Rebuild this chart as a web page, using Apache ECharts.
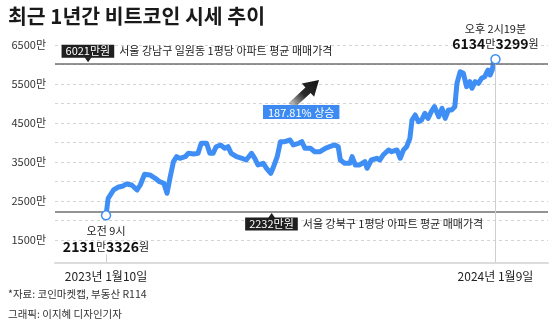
<!DOCTYPE html>
<html>
<head>
<meta charset="utf-8">
<script src="https://cdn.jsdelivr.net/npm/echarts@6/dist/echarts.min.js"></script>
<style>
  html, body { margin: 0; padding: 0; background: #fff; }
  #chart { width: 560px; height: 333px; }
</style>
</head>
<body>
<div id="chart"></div>
<script>
// Bitcoin price in KRW, unit: 만원 (10,000 won)
const dates = [
  '2023-01-10','2023-01-12','2023-01-17','2023-01-21','2023-01-26','2023-01-29','2023-02-03','2023-02-08',
  '2023-02-11','2023-02-15','2023-02-20','2023-02-25','2023-03-01','2023-03-05','2023-03-08','2023-03-09',
  '2023-03-11','2023-03-14','2023-03-17','2023-03-20','2023-03-25','2023-03-28','2023-04-02','2023-04-06',
  '2023-04-09','2023-04-14','2023-04-17','2023-04-20','2023-04-23','2023-04-27','2023-05-01','2023-05-04',
  '2023-05-07','2023-05-12','2023-05-17','2023-05-21','2023-05-26','2023-05-29','2023-06-01','2023-06-06',
  '2023-06-09','2023-06-13','2023-06-15','2023-06-19','2023-06-22','2023-06-26','2023-07-01','2023-07-04',
  '2023-07-09','2023-07-12','2023-07-15','2023-07-20','2023-07-24','2023-07-29','2023-08-03','2023-08-07',
  '2023-08-12','2023-08-15','2023-08-17','2023-08-21','2023-08-26','2023-08-28','2023-08-31','2023-09-04',
  '2023-09-09','2023-09-11','2023-09-15','2023-09-20','2023-09-23','2023-09-26','2023-10-01','2023-10-04',
  '2023-10-09','2023-10-12','2023-10-15','2023-10-18','2023-10-21','2023-10-23','2023-10-26','2023-10-29',
  '2023-11-01','2023-11-04','2023-11-07','2023-11-10','2023-11-13','2023-11-17','2023-11-20','2023-11-23',
  '2023-11-26','2023-11-29','2023-12-02','2023-12-04','2023-12-07','2023-12-10','2023-12-13','2023-12-16',
  '2023-12-18','2023-12-21','2023-12-24','2023-12-27','2023-12-30','2024-01-02','2024-01-04','2024-01-06',
  '2024-01-07','2024-01-09'
];
const prices = [
  2131.3326, 2569, 2782, 2851, 2885, 2936, 2910, 2782,
  2910, 3185, 3167, 3082, 2995, 2954, 2697, 2705,
  3123, 3508, 3636, 3595, 3636, 3723, 3705, 3723,
  3979, 3979, 3723, 3723, 3892, 3936, 3851, 3892,
  3723, 3636, 3595, 3551, 3723, 3595, 3423, 3467,
  3338, 3210, 3338, 3636, 4020, 4020, 4064, 3936,
  3979, 4020, 3851, 3851, 3764, 3764, 3851, 3892,
  3936, 3892, 3551, 3467, 3467, 3636, 3423, 3423,
  3508, 3338, 3551, 3595, 3551, 3679, 3808, 3764,
  3808, 3595, 3808, 3892, 4108, 4577, 4705, 4533,
  4577, 4749, 4620, 4790, 4918, 4662, 4877, 4620,
  4833, 4833, 4918, 5518, 5815, 5774, 5431, 5559,
  5390, 5559, 5518, 5646, 5687, 5859, 5731, 5859,
  6050, 6134.3299
];
// Apartment price per pyeong (만원)
const refLevels = [6021, 2232];
const refNames = ['서울 강남구 일원동 1평당 아파트 평균 매매가격', '서울 강북구 1평당 아파트 평균 매매가격'];
// Y axis labels and grid values (만원)
const yTickLabels = [1500, 2500, 3500, 4500, 5500, 6500];
const yGridValues = [1500, 2000, 2500, 3000, 3500, 4000, 4500, 5000, 5500, 6000, 6500];
const startTimeText = '오전 9시';
const endTimeText = '오후 2시19분';

const FONT = '"Noto Sans CJK KR", "Noto Sans", sans-serif';
const BLUE = '#3f8ef5';
const DAY = 86400000;
const t0 = Date.parse(dates[0]);
const dayOf = d => (Date.parse(d) - t0) / DAY;
const lastDay = dayOf(dates[dates.length - 1]);
const first = prices[0];
const last = prices[prices.length - 1];

function manWon(v) {
  const man = Math.floor(v);
  const won = Math.round((v - man) * 10000);
  return [man, won];
}
function dateText(v) {
  const d = new Date(t0 + v * DAY);
  return d.getUTCFullYear() + '년 ' + (d.getUTCMonth() + 1) + '월' + d.getUTCDate() + '일';
}
const [m0, w0] = manWon(first);
const [m1, w1] = manWon(last);
const risePct = (Math.floor((last / first - 1) * 10000) / 100).toFixed(2);

const seriesData = dates.map((d, i) => [dayOf(d), prices[i]]);

const pointerStyle = { color: '#1f1f1f' };
const refLabelRich = {
  b: { fontFamily: FONT, fontSize: 11, lineHeight: 12, color: '#fff', backgroundColor: '#1f1f1f', padding: [1, 4, 1, 4] },
  t: { fontFamily: FONT, fontSize: 11, lineHeight: 12, color: '#222', padding: [1, 0, 1, 5] }
};
const valueRich = {
  tm: { fontFamily: FONT, fontSize: 11, lineHeight: 15, color: '#222' },
  b: { fontFamily: FONT, fontSize: 14, fontWeight: 'bold', lineHeight: 16, color: '#111' },
  s: { fontFamily: FONT, fontSize: 11, lineHeight: 16, color: '#222' }
};

// arrow geometry (pixels)
const tail = [291, 106], tip = [319, 80];
const len = Math.hypot(tip[0] - tail[0], tip[1] - tail[1]);
const ux = (tip[0] - tail[0]) / len, uy = (tip[1] - tail[1]) / len;
const nx = -uy, ny = ux;
const headLen = 15, headHalf = 9, shaftHalf = 3.8;
const neck = [tip[0] - ux * headLen, tip[1] - uy * headLen];
const arrowPts = [
  [tail[0] + nx * shaftHalf, tail[1] + ny * shaftHalf],
  [neck[0] + nx * shaftHalf, neck[1] + ny * shaftHalf],
  [neck[0] + nx * headHalf, neck[1] + ny * headHalf],
  tip,
  [neck[0] - nx * headHalf, neck[1] - ny * headHalf],
  [neck[0] - nx * shaftHalf, neck[1] - ny * shaftHalf],
  [tail[0] - nx * shaftHalf, tail[1] - ny * shaftHalf]
];

const chart = echarts.init(document.getElementById('chart'), null, { renderer: 'canvas' });
chart.setOption({
  animation: false,
  backgroundColor: '#fff',
  grid: { left: 55, right: 12, top: 45, bottom: 70.4 },
  xAxis: {
    type: 'value',
    min: -47.7,
    max: 413.1,
    axisLine: { show: true, lineStyle: { color: '#dcdcdc', width: 2 } },
    axisTick: { show: false },
    splitLine: { show: false },
    axisLabel: {
      customValues: [0, lastDay],
      formatter: v => dateText(v),
      color: '#222',
      fontFamily: FONT,
      fontSize: 12,
      margin: 8
    }
  },
  yAxis: {
    type: 'value',
    min: 920,
    max: 6500,
    axisLine: { show: false },
    axisTick: { show: false, customValues: yGridValues },
    axisLabel: {
      customValues: yTickLabels,
      formatter: v => v + '만',
      color: '#333',
      fontFamily: FONT,
      fontSize: 11,
      margin: 9
    },
    splitLine: { show: true, lineStyle: { color: '#d4d4d4', type: [3, 3], width: 1 } }
  },
  graphic: [
    {
      type: 'text', left: 8, top: 6,
      style: { text: '최근 1년간 비트코인 시세 추이', font: 'bold 20.5px ' + FONT, fill: '#1a1a1a' }
    },
    {
      type: 'polygon',
      shape: { points: arrowPts },
      style: {
        fill: new echarts.graphic.LinearGradient(0, 1, 1, 0, [
          { offset: 0, color: 'rgba(40,40,40,0.05)' },
          { offset: 0.5, color: '#2a2a2a' },
          { offset: 1, color: '#151515' }
        ])
      },
      z: 10
    },
    {
      type: 'text', left: 263, top: 105,
      style: {
        text: risePct + '% 상승', font: '11px ' + FONT, fill: '#fff',
        backgroundColor: '#3d8bf2', padding: [2, 5, 1, 5]
      },
      z: 11
    },
    {
      type: 'text', left: 8, top: 289,
      style: { text: '*자료: 코인마켓캡, 부동산 R114', font: '10.5px ' + FONT, fill: '#333' }
    },
    {
      type: 'text', left: 8, top: 309,
      style: { text: '그래픽: 이지혜 디자인기자', font: '10.5px ' + FONT, fill: '#333' }
    }
  ],
  series: [{
    type: 'line',
    data: seriesData,
    showSymbol: false,
    lineStyle: { color: BLUE, width: 5, join: 'round', cap: 'round' },
    z: 3,
    markLine: {
      silent: true,
      symbol: ['none', 'none'],
      label: { show: false },
      lineStyle: { color: '#6f6f6f', width: 1.5, type: 'solid' },
      data: [
        { yAxis: refLevels[0] },
        { yAxis: refLevels[1] },
        [
          { coord: [0, 1130], lineStyle: { color: '#cfcfcf', width: 1, type: 'solid' } },
          { coord: [0, 920] }
        ],
        [
          { coord: [lastDay, last], lineStyle: { color: '#cfcfcf', width: 1, type: 'solid' } },
          { coord: [lastDay, 920] }
        ]
      ]
    },
    markPoint: {
      silent: true,
      data: [
        {
          coord: [0, first],
          symbol: 'circle', symbolSize: 9,
          itemStyle: { color: '#fff', borderColor: BLUE, borderWidth: 1.5 },
          label: {
            show: true, position: 'bottom', distance: 3,
            formatter: '{tm|' + startTimeText + '}\n{b|' + m0 + '}{s|만}{b|' + w0 + '}{s|원}',
            rich: valueRich
          }
        },
        {
          coord: [lastDay, last],
          symbol: 'circle', symbolSize: 9,
          itemStyle: { color: '#fff', borderColor: BLUE, borderWidth: 1.5 },
          label: {
            show: true, position: 'top', distance: 2,
            formatter: '{tm|' + endTimeText + '}\n{b|' + m1 + '}{s|만}{b|' + w1 + '}{s|원}',
            rich: valueRich
          }
        },
        {
          coord: [-16.8, refLevels[0]],
          symbol: 'path://M0,0 L10,0 L5,7 Z', symbolSize: [7, 5], symbolOffset: [0, -4],
          itemStyle: pointerStyle,
          label: {
            show: true, position: [-23, 0], align: 'left', verticalAlign: 'bottom',
            formatter: '{b|' + refLevels[0] + '만원}{t|' + refNames[0] + '}',
            rich: refLabelRich
          }
        },
        {
          coord: [154.8, refLevels[1]],
          symbol: 'path://M5,0 L10,7 L0,7 Z', symbolSize: [7, 5], symbolOffset: [0, 4],
          itemStyle: pointerStyle,
          label: {
            show: true, position: [-23, 5], align: 'left', verticalAlign: 'top',
            formatter: '{b|' + refLevels[1] + '만원}{t|' + refNames[1] + '}',
            rich: refLabelRich
          }
        }
      ]
    }
  }]
});
</script>
</body>
</html>
